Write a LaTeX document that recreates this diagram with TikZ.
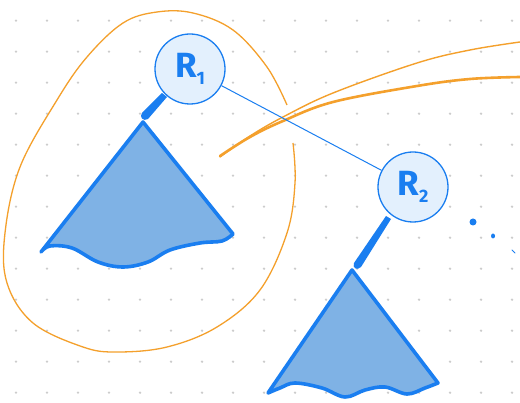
\documentclass[tikz,border=0pt]{standalone}
\usepackage{fontspec}
\setsansfont{Fira Sans}
\definecolor{bl}{HTML}{1A7EF0}
\definecolor{blfill}{HTML}{E3F0FD}
\definecolor{trifill}{HTML}{7FB2E5}
\definecolor{org}{HTML}{F4A02C}
\definecolor{griddot}{HTML}{CCCCCC}
\newcommand{\rootlabel}[2]{#1\raisebox{-7pt}{\fontsize{18}{18}\selectfont #2}}
\tikzset{
  rootnode/.style={circle, draw=bl, line width=1.3pt, fill=blfill, minimum size=70pt, inner sep=0pt,
    font=\sffamily\fontsize{35}{35}\selectfont\bfseries, text=bl},
  tree/.style={draw=bl, fill=trifill, line width=3.6pt, line join=round, line cap=round},
  edge/.style={draw=bl, line width=1pt},
  hull/.style={draw=org, line width=1.3pt},
}
\begin{document}
\begin{tikzpicture}[x=1pt,y=-1pt]
\useasboundingbox (0,0) rectangle (520,403);
\fill[white] (0,0) rectangle (520,403);
% dot grid
\foreach \i in {0,...,16} {
  \foreach \j in {0,...,12} {
    \fill[griddot] ({16+31*\i},{20.7+31*\j}) circle (1.3pt);
  }
}
% orange loop
\draw[hull] plot[smooth, tension=0.6] coordinates {
 (287,105) (267,67) (233,30) (193,13) (157,12) (123,23) (87,57) (57,100) (20,167)
 (5,233) (7,283) (33,323) (83,347) (117,352) (167,347) (217,327) (260,290) (287,233)
 (295,183) (293,143)};
% orange strokes
\draw[org, line width=1.4pt, line cap=round] plot[smooth, tension=0.6] coordinates {
 (220,157) (250,136) (283,117) (333,93) (417,63) (470,50) (520,42)};
\draw[org, line width=2.6pt, line cap=round] plot[smooth, tension=0.6] coordinates {
 (220,156) (250,137) (283,121) (333,102) (417,86) (470,79) (520,77)};
% trees
\draw[tree] (143,122) -- (233,234)
  -- plot[smooth, tension=0.6] coordinates {(233,234) (222,241) (200,243) (170,250) (148,262) (123,267) (98,262) (72,248) (50,246) (41,252)}
  -- (143,122) -- cycle;
\draw[tree] (352,270) -- (438,383)
  -- plot[smooth, tension=0.6] coordinates {(438,383) (425,388) (407,394) (385,387) (365,390) (345,397) (322,388) (295,383) (280,388) (268,393)}
  -- (352,270) -- cycle;
% tails
\fill[bl] (162,93) -- (167,97) -- (148,119) .. controls (143,122) and (139,117) .. (142,113) -- cycle;
\fill[bl] (386,216) -- (391,219) -- (361,267) .. controls (357,271) and (352,268) .. (354,263) -- cycle;
% roots
\node[rootnode] (R1) at (190,69) {\rootlabel{R}{1}};
\node[rootnode] (R2) at (413,187) {\rootlabel{R}{2}};
\draw[edge] (R1) -- (R2);
% continuation dots
\fill[bl] (473,222) circle (3.5pt);
\fill[bl] (493,236) ellipse (2pt and 2.5pt);
\draw[bl, line width=1pt, line cap=round] (512,250) -- (515,253);
\end{tikzpicture}
\end{document}
